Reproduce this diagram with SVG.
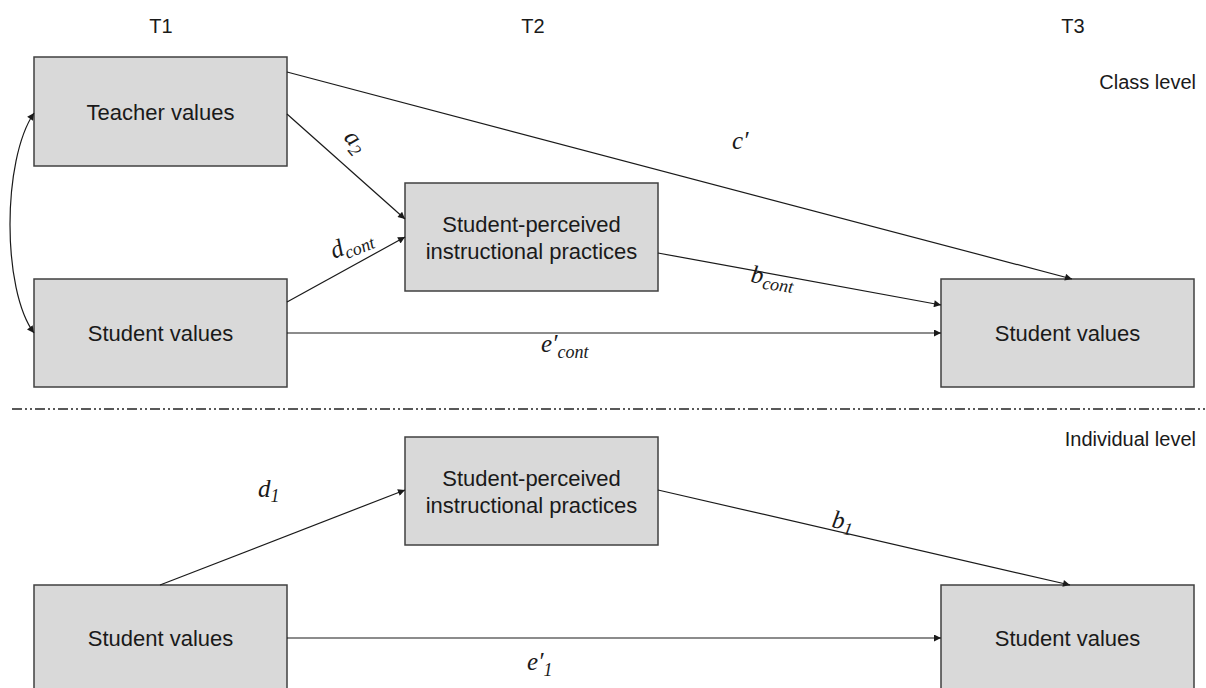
<svg xmlns="http://www.w3.org/2000/svg" width="1206" height="688" viewBox="0 0 1206 688">
<style>
.box{fill:#d9d9d9;stroke:#404040;stroke-width:1.5}
.lbl{font-family:"Liberation Sans",Arial,sans-serif;font-size:22px;fill:#1a1a1a;text-anchor:middle}
.hdr{font-family:"Liberation Sans",Arial,sans-serif;font-size:20px;fill:#1a1a1a}
.conn{fill:none;stroke:#1a1a1a;stroke-width:1.2}
.math{font-family:"Liberation Serif","Times New Roman",serif;font-style:italic;font-size:25px;fill:#1a1a1a}
.sub{font-size:18px}
</style>
<defs>
<marker id="arr" viewBox="0 0 10 10" refX="10" refY="5" markerWidth="8" markerHeight="7" markerUnits="userSpaceOnUse" orient="auto-start-reverse">
<path d="M0,0 L10,5 L0,10 z" fill="#1a1a1a"/>
</marker>
</defs>
<rect width="1206" height="688" fill="#fff"/>

<g id="headers">
<text class="hdr" x="161" y="33" text-anchor="middle">T1</text>
<text class="hdr" x="533" y="33" text-anchor="middle">T2</text>
<text class="hdr" x="1073" y="33" text-anchor="middle">T3</text>
<text class="hdr" x="1196" y="89" text-anchor="end" font-size="18">Class level</text>
<text class="hdr" x="1196" y="446" text-anchor="end" font-size="18">Individual level</text>
</g>

<line x1="12" y1="409" x2="1206" y2="409" stroke="#595959" stroke-width="1.8" stroke-dasharray="10 3 2 3 2 3"/>

<g id="teacher_t1">
<rect class="box" x="34" y="57" width="253" height="109"/>
<text class="lbl" x="160.5" y="120">Teacher values</text>
</g>
<g id="student_t1_class">
<rect class="box" x="34" y="279" width="253" height="108"/>
<text class="lbl" x="160.5" y="341">Student values</text>
</g>
<g id="perceived_class">
<rect class="box" x="405" y="183" width="253" height="108"/>
<text class="lbl" x="531.5" y="232">Student-perceived</text>
<text class="lbl" x="531.5" y="259">instructional practices</text>
</g>
<g id="student_t3_class">
<rect class="box" x="941" y="279" width="253" height="108"/>
<text class="lbl" x="1067.5" y="341">Student values</text>
</g>
<g id="perceived_ind">
<rect class="box" x="405" y="437" width="253" height="108"/>
<text class="lbl" x="531.5" y="486">Student-perceived</text>
<text class="lbl" x="531.5" y="513">instructional practices</text>
</g>
<g id="student_t1_ind">
<rect class="box" x="34" y="585" width="253" height="110"/>
<text class="lbl" x="160.5" y="646">Student values</text>
</g>
<g id="student_t3_ind">
<rect class="box" x="941" y="585" width="253" height="110"/>
<text class="lbl" x="1067.5" y="646">Student values</text>
</g>

<g id="connectors">
<path class="conn" d="M34,333 C2,290 2,160 34,113" marker-start="url(#arr)" marker-end="url(#arr)"/>
<line class="conn" x1="287" y1="72" x2="1072" y2="279" marker-end="url(#arr)"/>
<line class="conn" x1="287" y1="114" x2="405" y2="219" marker-end="url(#arr)"/>
<line class="conn" x1="287" y1="302" x2="405" y2="237" marker-end="url(#arr)"/>
<line class="conn" x1="658" y1="253" x2="941" y2="305" marker-end="url(#arr)"/>
<line class="conn" x1="287" y1="333" x2="941" y2="333" marker-end="url(#arr)"/>
<line class="conn" x1="160" y1="585" x2="405" y2="490" marker-end="url(#arr)"/>
<line class="conn" x1="658" y1="490" x2="1070" y2="585" marker-end="url(#arr)"/>
<line class="conn" x1="287" y1="638" x2="941" y2="638" marker-end="url(#arr)"/>
</g>

<g id="labels">
<text class="math" transform="translate(343,138) rotate(50)">a<tspan class="sub" dy="5">2</tspan></text>
<text class="math" transform="translate(334,259) rotate(-22)">d<tspan class="sub" dy="5">cont</tspan></text>
<text class="math" x="732" y="149">c′</text>
<text class="math" transform="translate(750,282) rotate(8)">b<tspan class="sub" dy="5">cont</tspan></text>
<text class="math" x="541" y="352">e′<tspan class="sub" dy="6">cont</tspan></text>
<text class="math" x="258" y="497">d<tspan class="sub" dy="5">1</tspan></text>
<text class="math" transform="translate(831,527) rotate(10)">b<tspan class="sub" dy="5">1</tspan></text>
<text class="math" x="527" y="670">e′<tspan class="sub" dy="6">1</tspan></text>
</g>
</svg>
